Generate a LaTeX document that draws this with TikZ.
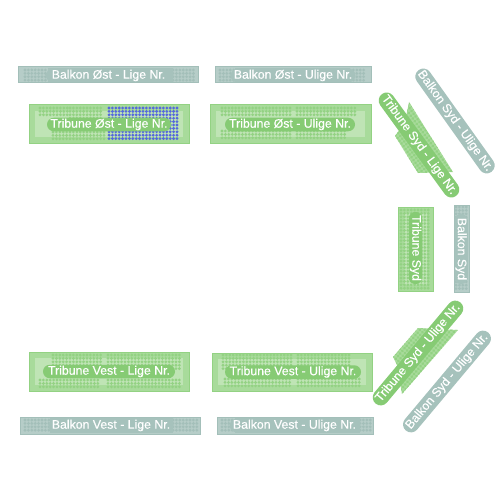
\documentclass[tikz,border=0pt]{standalone}
\usepackage{fontspec}
\setmainfont[FakeBold=0.3]{Liberation Sans}
\usepackage{tikz}
\usetikzlibrary{shapes.misc}
\definecolor{tribunedark}{HTML}{93D283}
\definecolor{tribuneband}{HTML}{A8DB9B}
\definecolor{tribunelight}{HTML}{BFE4B5}
\definecolor{tribunepill}{HTML}{86CB74}
\definecolor{balkondark}{HTML}{A3BFB9}
\definecolor{balkonlight}{HTML}{B6CDC8}
\definecolor{balkonpill}{HTML}{A6C2BC}
\definecolor{seatblue}{HTML}{5569DC}
\tikzset{
  pill/.style={rounded rectangle, text=white, font=\fontsize{12.3}{13}\selectfont, inner sep=0pt, minimum height=13.5},
  tribunepillbox/.style={pill, fill=tribunepill},
  balkonpillbox/.style={pill, fill=balkonpill},
  skewpill/.style={minimum height=16},
}
% seats x1 y1 x2 y2 colour
\newcommand{\seats}[5]{
  \pgfmathsetmacro{\nextx}{#1+3.4}
  \pgfmathsetmacro{\nexty}{#2+3.4}
  \foreach \sx in {#1,\nextx,...,#3}
    \foreach \sy in {#2,\nexty,...,#4}
      \fill[#5] (\sx,\sy) circle (1.55);
}
% tribune block x1 y1 x2 y2
\newcommand{\tribuneblock}[4]{
  \fill[tribuneband] (#1,#2) rectangle (#3,#4);
  \draw[tribunedark, line width=1] (#1,#2) rectangle (#3,#4);
  \fill[tribunelight] (#1+6,#2+6) rectangle (#3-6,#4-6);
}
% balkon block x1 y1 x2 y2
\newcommand{\balkonblock}[4]{
  \fill[balkonlight] (#1,#2) rectangle (#3,#4);
  \draw[balkondark, line width=1] (#1,#2) rectangle (#3,#4);
}
\begin{document}
\begin{tikzpicture}[x=1pt,y=-1pt]
\useasboundingbox (0,0) rectangle (500,500);
% oest
\balkonblock{18}{67}{198}{83}
\seats{25}{70}{48}{81}{balkondark}
\seats{173}{70}{196}{81}{balkondark}
\fill[balkonpill] (48,68) rectangle (173,82);
\balkonblock{215}{67}{371}{83}
\seats{220}{70}{235}{81}{balkondark}
\seats{350}{70}{366}{81}{balkondark}
\fill[balkonpill] (235,68) rectangle (350,82);
\tribuneblock{29}{105}{189}{143}
\seats{40}{108}{68}{116}{tribunedark}
\seats{70}{108}{102}{120}{tribunedark}
\seats{53}{132}{105}{140}{tribunedark}
\seats{109}{108}{178}{140}{seatblue}
\tribuneblock{210}{105}{371}{143}
\seats{222}{108}{292}{118}{tribunedark}
\seats{297}{108}{355}{118}{tribunedark}
\seats{222}{131}{292}{141}{tribunedark}
\seats{297}{131}{345}{141}{tribunedark}
% vest
\tribuneblock{29}{352}{189}{391}
\seats{53}{355}{103}{370}{tribunedark}
\seats{108}{355}{180}{370}{tribunedark}
\seats{40}{380}{100}{388}{tribunedark}
\seats{108}{380}{180}{388}{tribunedark}
\tribuneblock{212}{353}{372}{391}
\seats{223}{355}{293}{369}{tribunedark}
\seats{298}{355}{350}{369}{tribunedark}
\seats{225}{379}{290}{388}{tribunedark}
\seats{298}{379}{360}{388}{tribunedark}
\balkonblock{20}{417}{200}{434}
\seats{25}{420}{50}{431}{balkondark}
\seats{173}{420}{197}{431}{balkondark}
\fill[balkonpill] (50,418) rectangle (173,433);
\balkonblock{217}{417}{373}{434}
\seats{222}{420}{235}{431}{balkondark}
\seats{360}{420}{372}{431}{balkondark}
\fill[balkonpill] (235,418) rectangle (360,433);
% syd
\tribuneblock{398}{207}{433}{291}
\seats{401}{210}{431}{289}{tribunedark}
\balkonblock{454}{205}{469}{292}
\seats{456}{207}{468}{291}{balkondark}
% syd skraa
\begin{scope}
\clip (409,102) -- (453,172) -- (418,173) -- (395,136) -- (405,122) -- cycle;
\fill[tribuneband] (390,100) rectangle (455,175);
\begin{scope}[rotate around={-54:(425,140)}]
\seats{380}{110}{470}{170}{tribunedark}
\end{scope}
\end{scope}
\begin{scope}
\clip (418,328) -- (458,330) -- (402,394) -- (397,365) -- (393,357) -- cycle;
\fill[tribuneband] (390,325) rectangle (460,396);
\begin{scope}[rotate around={50:(425,360)}]
\seats{380}{330}{470}{390}{tribunedark}
\end{scope}
\end{scope}
% labels
\node[balkonpillbox, minimum width=125] (boel) at (108.5,75.5) {Balkon Øst - Lige Nr.};
\node[balkonpillbox, minimum width=122] (boul) at (293,75.5) {Balkon Øst - Ulige Nr.};
\node[tribunepillbox, minimum width=124] (tol) at (109,124.5) {Tribune Øst - Lige Nr.};
\node[tribunepillbox, minimum width=130] (toul) at (290,124.5) {Tribune Øst - Ulige Nr.};
\node[tribunepillbox, minimum width=132] (tvl) at (109,371.5) {Tribune Vest - Lige Nr.};
\node[tribunepillbox, minimum width=136] (tvul) at (293,372) {Tribune Vest - Ulige Nr.};
\node[balkonpillbox, minimum width=125] (bvl) at (111,425.5) {Balkon Vest - Lige Nr.};
\node[balkonpillbox, minimum width=128] (bvul) at (294.5,425.5) {Balkon Vest - Ulige Nr.};
\node[tribunepillbox, rotate=-90, minimum width=72] (ts) at (415.5,248) {Tribune Syd};
\node[balkonpillbox, rotate=-90, minimum width=70] (bs) at (461,249) {Balkon Syd};
\node[tribunepillbox, skewpill, rotate=-54, minimum width=126] (tsl) at (419,145) {Tribune Syd - Lige Nr.};
\node[balkonpillbox, skewpill, rotate=-54.5, minimum width=124] (bsu) at (455,121) {Balkon Syd - Ulige Nr.};
\node[tribunepillbox, skewpill, rotate=50, minimum width=132] (tsul) at (418,353) {Tribune Syd - Ulige Nr.};
\node[balkonpillbox, skewpill, rotate=50, minimum width=128] (bsul) at (447,381.5) {Balkon Syd - Ulige Nr.};
\end{tikzpicture}
\end{document}
